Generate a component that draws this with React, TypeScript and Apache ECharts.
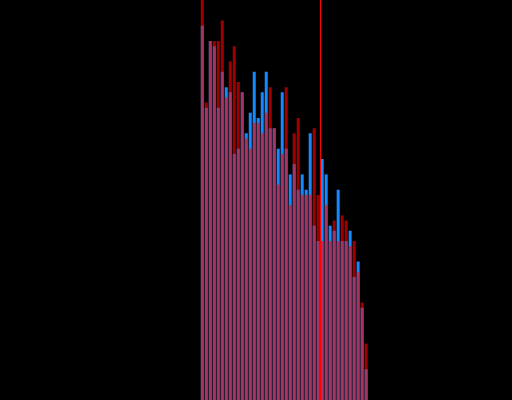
import React, { useEffect, useRef } from "react";
import * as echarts from "echarts";

// bin centres (x axis units, 1 unit per bin)
const binCenters = [
  50.5, 51.5, 52.5, 53.5, 54.5, 55.5, 56.5, 57.5, 58.5, 59.5,
  60.5, 61.5, 62.5, 63.5, 64.5, 65.5, 66.5, 67.5, 68.5, 69.5,
  70.5, 71.5, 72.5, 73.5, 74.5, 75.5, 76.5, 77.5, 78.5, 79.5,
  80.5, 81.5, 82.5, 83.5, 84.5, 85.5, 86.5, 87.5, 88.5, 89.5,
  90.5, 91.5,
];

// counts of the blue distribution
const blueCounts = [
  73, 57, 70, 69, 57, 64, 61, 60, 48, 49,
  60, 52, 56, 64, 55, 60, 64, 53, 53, 49,
  60, 49, 44, 46, 41, 44, 41, 52, 34, 31,
  47, 44, 34, 33, 41, 31, 31, 33, 24, 27,
  18, 6,
];

// counts of the red distribution
const redCounts = [
  78, 58, 70, 70, 70, 74, 59, 66, 69, 62,
  60, 51, 49, 54, 54, 52, 56, 61, 53, 42,
  48, 61, 38, 52, 55, 40, 40, 40, 53, 40,
  31, 38, 31, 35, 31, 36, 35, 30, 31, 25,
  19, 11,
];

// threshold marker
const thresholdX = 80;

export default function App() {
  const ref = useRef<HTMLDivElement>(null);

  useEffect(() => {
    if (!ref.current) return;
    const chart = echarts.init(ref.current, undefined, { renderer: "svg" });
    const blueData = binCenters.map((x, i) => [x, blueCounts[i]]);
    const redData = binCenters.map((x, i) => [x, redCounts[i]]);
    chart.setOption({
      animation: false,
      backgroundColor: "#000000",
      grid: { left: 0.5, right: -0.5, top: 0, bottom: -1, containLabel: false },
      xAxis: {
        type: "value",
        min: 0,
        max: 128,
        show: false,
        splitLine: { show: false },
      },
      yAxis: {
        type: "value",
        min: 0,
        max: 78,
        show: false,
        splitLine: { show: false },
      },
      series: [
        {
          type: "bar",
          name: "blue",
          data: blueData,
          barWidth: 3,
          barGap: "-100%",
          itemStyle: { color: "#1589ff" },
        },
        {
          type: "bar",
          name: "red",
          data: redData,
          barWidth: 3,
          barGap: "-100%",
          itemStyle: { color: "#ff0000", opacity: 0.62 },
          markLine: {
            silent: true,
            symbol: "none",
            label: { show: false },
            lineStyle: { color: "#ff0000", width: 1, type: "solid", opacity: 1 },
            data: [{ xAxis: thresholdX }],
          },
        },
      ],
    });
    return () => chart.dispose();
  }, []);

  return (
    <div
      ref={ref}
      style={{ position: "fixed", left: 0, top: 0, width: 512, height: 400 }}
    />
  );
}
